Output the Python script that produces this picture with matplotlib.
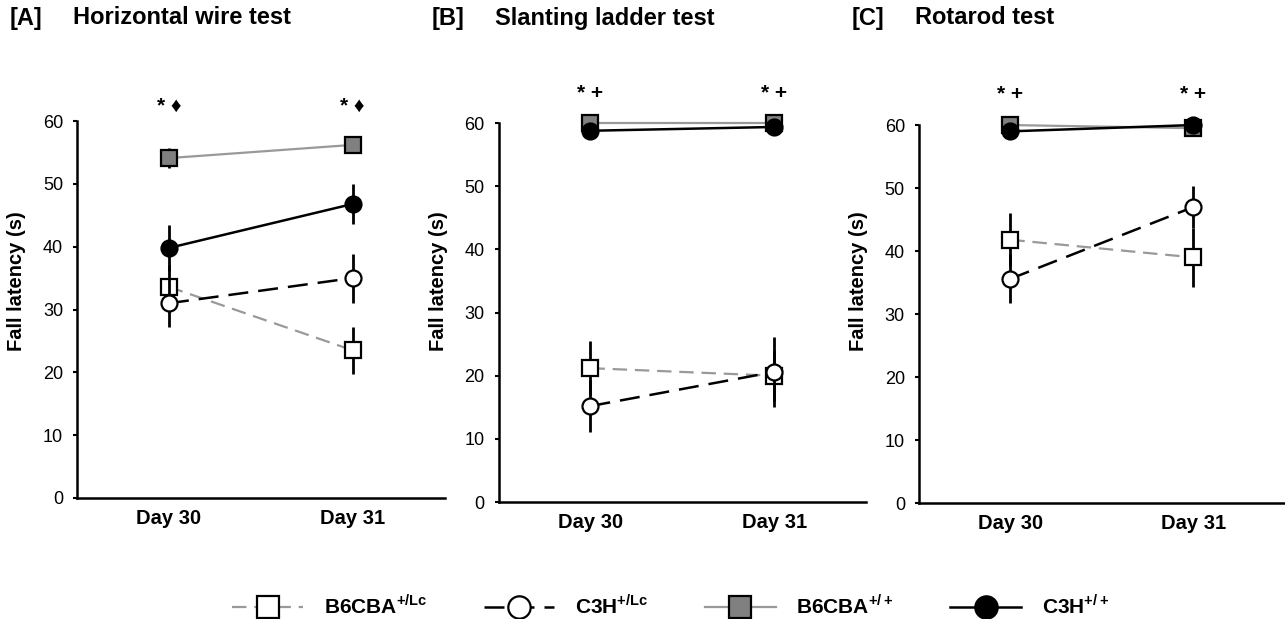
import numpy as np
import matplotlib
matplotlib.use("Agg")
import matplotlib.pyplot as plt

plt.rcParams.update({"font.family": ["Liberation Sans", "DejaVu Sans"],
                     "mathtext.fontset": "custom",
                     "mathtext.bf": "Liberation Sans:bold",
                     "mathtext.rm": "Liberation Sans"})

days = ["Day 30", "Day 31"]
panels = ["[A]", "[B]", "[C]"]
titles = ["Horizontal wire test", "Slanting ladder test", "Rotarod test"]
marks = ["* \u2666", "* +", "* +"]

# mean fall latency (s) and error, per panel, per day
b6_lc = [[33.6, 23.5], [21.2, 20.0], [41.8, 39.0]]
b6_lc_err = [[3.5, 3.7], [4.3, 4.0], [4.2, 4.7]]
c3h_lc = [[31.0, 35.0], [15.2, 20.6], [35.6, 47.0]]
c3h_lc_err = [[3.8, 3.9], [4.1, 5.5], [3.9, 3.3]]
b6_wt = [[54.1, 56.2], [60.0, 60.0], [60.0, 59.5]]
b6_wt_err = [[1.6, 0.5], [0.3, 0.3], [0.3, 0.4]]
c3h_wt = [[39.8, 46.8], [58.8, 59.4], [59.0, 60.0]]
c3h_wt_err = [[3.7, 3.2], [0.6, 0.5], [0.6, 0.3]]

GREY = "#999999"
FILL = "#808080"

fig = plt.figure(figsize=(12.85, 6.19), dpi=100)
boxes = [(0.060, 0.1955, 0.286, 0.609),
         (0.388, 0.189, 0.286, 0.612),
         (0.715, 0.187, 0.285, 0.611)]
mark_y = [62.4, 64.7, 64.8]
ylab_x = [17, 438, 858]
title_x = [10, 432, 852]

x = np.arange(2)
handles = None
for i, box in enumerate(boxes):
    ax = fig.add_axes(box)
    series = [
        (b6_lc[i], b6_lc_err[i], dict(color=GREY, ls=(0, (6.5, 3.5)), lw=1.6, marker="s",
                                      mfc="white", mec="black")),
        (c3h_lc[i], c3h_lc_err[i], dict(color="black", ls=(0, (8, 4)), lw=1.8, marker="o",
                                        mfc="white", mec="black")),
        (b6_wt[i], b6_wt_err[i], dict(color=GREY, ls="-", lw=1.6, marker="s",
                                      mfc=FILL, mec="black")),
        (c3h_wt[i], c3h_wt_err[i], dict(color="black", ls="-", lw=1.8, marker="o",
                                        mfc="black", mec="black")),
    ]
    hs = []
    for k, (y, e, st) in enumerate(series):
        ax.errorbar(x, y, yerr=e, fmt="none", ecolor="black", elinewidth=2.0,
                    capsize=0, zorder=2 + k, clip_on=False)
        h, = ax.plot(x, y, ms=11.5, mew=1.6, zorder=2.5 + k, clip_on=False, **st)
        hs.append(h)
    if handles is None:
        handles = hs
    for xi in x:
        ax.text(xi, mark_y[i], marks[i], ha="center", va="center", fontsize=15,
                fontweight="bold")
    ax.set_xlim(-0.5, 1.5)
    ax.set_ylim(0, 60)
    ax.set_yticks(range(0, 61, 10))
    ax.set_xticks(x)
    ax.set_xticklabels(days, fontsize=14.5, fontweight="bold")
    ax.tick_params(axis="x", length=0, pad=8)
    ax.tick_params(axis="y", length=3, width=1.5, labelsize=13, pad=7)
    for s in ("top", "right"):
        ax.spines[s].set_visible(False)
    for s in ("left", "bottom"):
        ax.spines[s].set_linewidth(1.8)
    fig.text(ylab_x[i] / 1285, 1 - 281 / 619, "Fall latency (s)", rotation=90,
             ha="center", va="center", fontsize=14.5, fontweight="bold")
    fig.text(title_x[i] / 1285, 1 - 18 / 619, panels[i], ha="left", va="center",
             fontsize=17, fontweight="bold")
    fig.text((title_x[i] + 63) / 1285, 1 - 18 / 619, titles[i], ha="left", va="center",
             fontsize=17, fontweight="bold")

labels = [r"B6CBA$^{\mathbf{+/Lc}}$", r"C3H$^{\mathbf{+/Lc}}$",
          r"B6CBA$^{\mathbf{+/+}}$", r"C3H$^{\mathbf{+/+}}$"]
fig.legend(handles, labels, loc="center", bbox_to_anchor=(0.522, 1 - 606 / 619), ncol=4,
           frameon=False, handlelength=3.4, columnspacing=2.7, handletextpad=1.0,
           markerscale=1.4, prop={"weight": "bold", "size": 15})

fig.savefig("out.png", dpi=100)
